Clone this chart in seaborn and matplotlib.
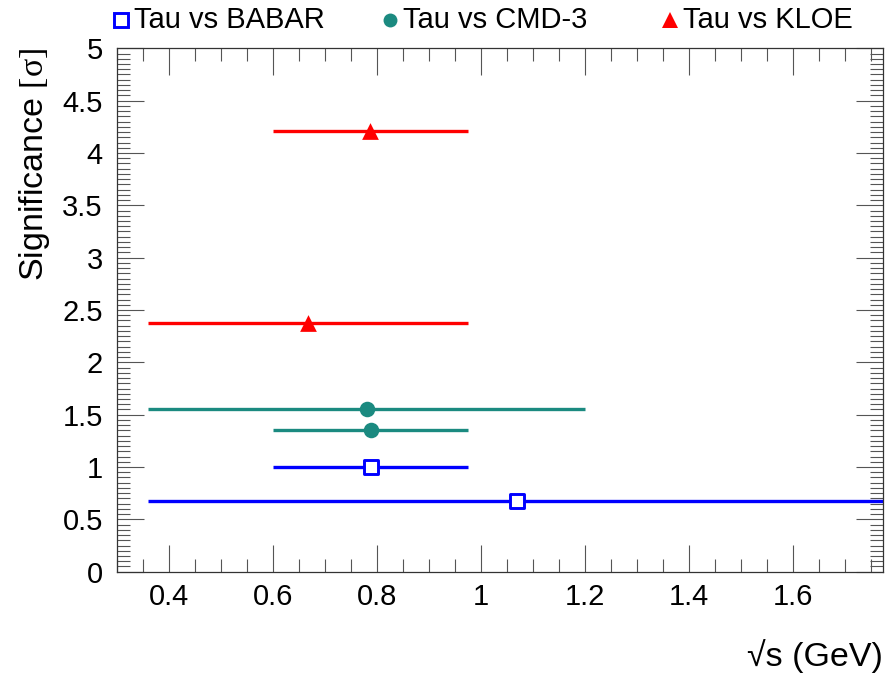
import numpy as np
import pandas as pd
import matplotlib
matplotlib.use("Agg")
import matplotlib.pyplot as plt
from matplotlib.lines import Line2D
from matplotlib.ticker import FixedLocator, MultipleLocator, FixedFormatter
import seaborn as sns

# Comparison names
comparisons = ["Tau vs BABAR", "Tau vs CMD-3", "Tau vs KLOE"]

# Central energy (GeV), significance and energy window of each comparison
babar_x = [0.788, 1.069]
babar_sig = [1.00, 0.68]
babar_lo = [0.60, 0.36]
babar_hi = [0.975, 1.80]

cmd3_x = [0.781, 0.788]
cmd3_sig = [1.557, 1.35]
cmd3_lo = [0.36, 0.60]
cmd3_hi = [1.20, 0.975]

kloe_x = [0.787, 0.667]
kloe_sig = [4.21, 2.38]
kloe_lo = [0.60, 0.36]
kloe_hi = [0.975, 0.975]

# Axis ticks
x_ticks = [0.4, 0.6, 0.8, 1.0, 1.2, 1.4, 1.6]
x_tick_labels = ["0.4", "0.6", "0.8", "1", "1.2", "1.4", "1.6"]
y_ticks = [0, 0.5, 1, 1.5, 2, 2.5, 3, 3.5, 4, 4.5, 5]
y_tick_labels = ["0", "0.5", "1", "1.5", "2", "2.5", "3", "3.5", "4", "4.5", "5"]

frames = []
for name, xs, sig, lo, hi in [
    (comparisons[0], babar_x, babar_sig, babar_lo, babar_hi),
    (comparisons[1], cmd3_x, cmd3_sig, cmd3_lo, cmd3_hi),
    (comparisons[2], kloe_x, kloe_sig, kloe_lo, kloe_hi),
]:
    frames.append(pd.DataFrame({"comparison": name, "sqrt_s": xs,
                                "significance": sig, "lo": lo, "hi": hi}))
df = pd.concat(frames, ignore_index=True)

colors = {"Tau vs BABAR": "#0000ff", "Tau vs CMD-3": "#1b8a80", "Tau vs KLOE": "#ff0000"}

sns.set_theme(style="white")
plt.rcParams["font.family"] = ["Liberation Sans", "DejaVu Sans"]
plt.rcParams["mathtext.fontset"] = "custom"
plt.rcParams["mathtext.rm"] = "Liberation Serif"
plt.rcParams["mathtext.it"] = "Liberation Serif:italic"

W, H = 893, 676
fig = plt.figure(figsize=(W / 100, H / 100), dpi=100)
left, right, top, bottom = 116.7, 883.3, 48.3, 571.7
ax = fig.add_axes([left / W, 1 - bottom / H, (right - left) / W, (bottom - top) / H])

# Horizontal bars showing the energy window
for name, sub in df.groupby("comparison", sort=False):
    ax.hlines(sub["significance"], sub["lo"], sub["hi"], colors=colors[name],
              linewidth=2.4, zorder=2, capstyle="butt")

# Markers
sub = df[df["comparison"] == "Tau vs BABAR"]
sns.scatterplot(data=sub, x="sqrt_s", y="significance", ax=ax, marker="s", s=105,
                facecolor="white", edgecolor=colors["Tau vs BABAR"], linewidth=2.1,
                zorder=3, legend=False)
sub = df[df["comparison"] == "Tau vs CMD-3"]
sns.scatterplot(data=sub, x="sqrt_s", y="significance", ax=ax, marker="o", s=125,
                color=colors["Tau vs CMD-3"], edgecolor=colors["Tau vs CMD-3"],
                linewidth=0, zorder=3, legend=False)
sub = df[df["comparison"] == "Tau vs KLOE"]
sns.scatterplot(data=sub, x="sqrt_s", y="significance", ax=ax, marker="^", s=145,
                color=colors["Tau vs KLOE"], edgecolor=colors["Tau vs KLOE"],
                linewidth=0, zorder=3, legend=False)

ax.set_xlim(0.3, 1.773)
ax.set_ylim(0, 5)

ax.xaxis.set_major_locator(FixedLocator(x_ticks))
ax.xaxis.set_major_formatter(FixedFormatter(x_tick_labels))
ax.xaxis.set_minor_locator(MultipleLocator(0.05))
ax.yaxis.set_major_locator(FixedLocator(y_ticks))
ax.yaxis.set_major_formatter(FixedFormatter(y_tick_labels))
ax.yaxis.set_minor_locator(MultipleLocator(0.05))

frame_col = "#333333"
for sp in ax.spines.values():
    sp.set_visible(True)
    sp.set_color(frame_col)
    sp.set_linewidth(0.9)

ax.tick_params(which="both", direction="in", top=True, right=True, bottom=True, left=True,
               color="#555555", width=0.8, labelcolor="black")
ax.tick_params(which="major", length=19.5, labelsize=21)
ax.tick_params(which="minor", length=9.7)
ax.tick_params(axis="x", which="major", pad=8)
ax.tick_params(axis="y", which="major", pad=10)

ax.set_xlabel("√s (GeV)", fontsize=24.5, loc="right", color="black")
ax.xaxis.set_label_coords(1.0, (bottom - 656) / (bottom - top))
ax.xaxis.label.set_verticalalignment("center")
ax.set_ylabel(r"Significance $\mathrm{[\sigma]}$", fontsize=24.5, loc="top", color="black")
ax.yaxis.set_label_coords((35 - left) / (right - left), 1.0)
ax.yaxis.label.set_verticalalignment("center")

# Legend row above the frame
leg_y = 1 - 20 / H
legend_items = [
    (comparisons[0], 121, dict(marker="s", markersize=10, markerfacecolor="white",
                               markeredgecolor=colors["Tau vs BABAR"], markeredgewidth=2.1)),
    (comparisons[1], 390, dict(marker="o", markersize=10, markerfacecolor=colors["Tau vs CMD-3"],
                               markeredgewidth=0)),
    (comparisons[2], 670, dict(marker="^", markersize=11, markerfacecolor=colors["Tau vs KLOE"],
                               markeredgewidth=0)),
]
for label, px, mk in legend_items:
    fig.add_artist(Line2D([px / W], [leg_y], transform=fig.transFigure, linestyle="none", **mk))
    fig.text((px + 13) / W, leg_y, label, ha="left", va="center", fontsize=21, color="black")

fig.savefig("out.png", dpi=100, facecolor="white")
